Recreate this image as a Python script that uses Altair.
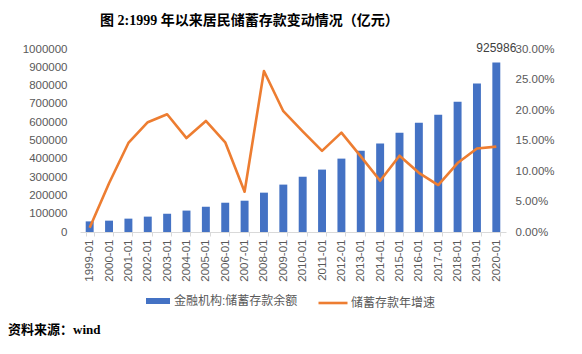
import altair as alt
import pandas as pd

months = ["1999-01", "2000-01", "2001-01", "2002-01", "2003-01", "2004-01", "2005-01",
          "2006-01", "2007-01", "2008-01", "2009-01", "2010-01", "2011-01", "2012-01",
          "2013-01", "2014-01", "2015-01", "2016-01", "2017-01", "2018-01", "2019-01", "2020-01"]
balance = [58000, 62000, 73000, 84000, 100000, 117000, 138000, 160000, 171000, 215000, 259000,
           302000, 341000, 401000, 444000, 483000, 543000, 597000, 641000, 712000, 811000, 925986]
growth = [0.007, 0.080, 0.146, 0.180, 0.193, 0.154, 0.182, 0.147, 0.066, 0.264, 0.198,
          0.165, 0.133, 0.163, 0.124, 0.084, 0.125, 0.097, 0.077, 0.113, 0.137, 0.140]
left_ticks = [0, 100000, 200000, 300000, 400000, 500000, 600000, 700000, 800000, 900000, 1000000]
right_ticks = [0.0, 0.05, 0.10, 0.15, 0.20, 0.25, 0.30]

bar_name = "金融机构:储蓄存款余额"
line_name = "储蓄存款年增速"
title_text = "图 2:1999 年以来居民储蓄存款变动情况（亿元）"
source_text = "资料来源：wind"

SANS = "Liberation Sans, Noto Sans CJK SC, sans-serif"
SERIF = "Liberation Serif, Noto Sans CJK SC, serif"
GREY = "#595959"

df = pd.DataFrame({"month": months, "balance": balance, "growth": growth,
                   "bar_series": bar_name, "line_series": line_name})

x = alt.X("month:N", sort=months,
          scale=alt.Scale(paddingInner=0.59, paddingOuter=0.295),
          axis=alt.Axis(title=None, labelAngle=-90, tickBand="extent",
                        domainColor="#D9D9D9", tickColor="#D9D9D9", tickSize=4,
                        labelPadding=3, labelColor=GREY, labelFont=SANS, labelFontSize=11.5,
                        labelOverlap=False))

y_left = alt.Y("balance:Q", scale=alt.Scale(domain=[0, 1000000], nice=False),
               axis=alt.Axis(title=None, values=left_ticks, format="d", domain=False,
                             ticks=False, grid=False, labelPadding=13, labelColor=GREY,
                             labelFont=SANS, labelFontSize=11.5, labelOverlap=False))

bars = alt.Chart(df).mark_bar().encode(
    x=x,
    y=y_left,
    color=alt.Color("bar_series:N", scale=alt.Scale(domain=[bar_name], range=["#4472C4"]),
                    legend=alt.Legend(orient="none", legendX=66, legendY=240, title=None,
                                      padding=0, symbolType="M-1,-0.25H1V0.25H-1Z",
                                      symbolSize=576, symbolStrokeWidth=0, labelOffset=4,
                                      labelFontSize=12, labelColor=GREY, labelFont=SANS)),
)

label = alt.Chart(df).transform_filter(alt.datum.month == "2020-01").mark_text(
    dy=-8, baseline="bottom", fontSize=12, color="#404040", font=SANS
).encode(x=x, y=y_left, text=alt.Text("balance:Q", format="d"))

line = alt.Chart(df).mark_line(strokeWidth=2.6, strokeJoin="round").encode(
    x=x,
    y=alt.Y("growth:Q", scale=alt.Scale(domain=[0, 0.3], nice=False),
            axis=alt.Axis(title=None, orient="right", values=right_ticks, format=".2%",
                          domain=False, ticks=False, grid=False, labelPadding=9,
                          labelColor=GREY, labelFont=SANS, labelFontSize=11.5,
                          labelOverlap=False)),
    stroke=alt.Stroke("line_series:N", scale=alt.Scale(domain=[line_name], range=["#ED7D31"]),
                      legend=alt.Legend(orient="none", legendX=237, legendY=238, title=None,
                                        padding=0, symbolType="stroke", symbolSize=841,
                                        symbolStrokeWidth=2.6, labelOffset=2,
                                        labelFontSize=12, labelColor=GREY, labelFont=SANS)),
)

footnote = alt.Chart(pd.DataFrame({"t": [source_text]})).mark_text(
    align="left", baseline="middle", font=SERIF, fontSize=13, fontWeight="bold", color="black"
).encode(x=alt.value(-72), y=alt.value(281), text="t:N")

chart = alt.layer(alt.layer(bars, label), line, footnote).resolve_scale(
    y="independent"
).properties(
    width=426, height=183,
    title=alt.Title(title_text, anchor="start", frame="group", dx=20, font=SERIF, fontSize=14,
                    fontWeight="bold", color="black", offset=14),
    padding={"left": 80, "top": 49, "right": 76, "bottom": 122},
    autosize=alt.AutoSizeParams(type="none"),
    background="white",
).configure_view(stroke=None)

chart.save("out.html", embed_options={"renderer": "svg", "actions": False})
